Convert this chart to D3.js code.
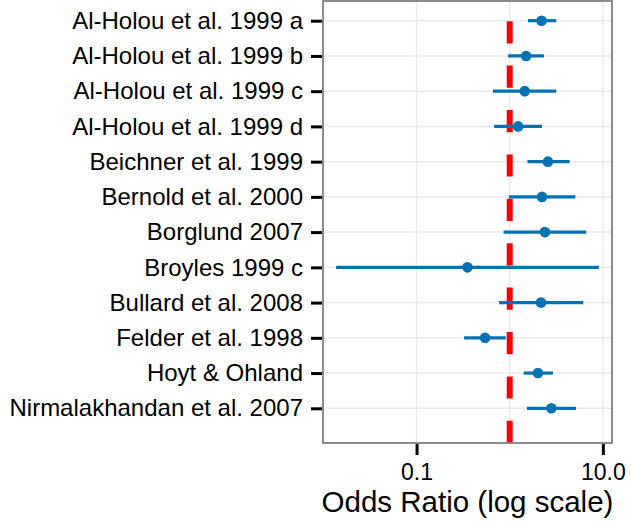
<!DOCTYPE html>
<html>
<head>
<meta charset="utf-8">
<script src="https://cdn.jsdelivr.net/npm/d3@7"></script>
<style>
  html, body { margin: 0; padding: 0; background: #ffffff; }
  svg { display: block; }
  text { font-family: "Liberation Sans", Arial, Helvetica, sans-serif; fill: #000; }
</style>
</head>
<body>
<svg id="chart" width="631" height="522"></svg>
<script>
// ---- data ----
const studies = [
  "Al-Holou et al. 1999 a",
  "Al-Holou et al. 1999 b",
  "Al-Holou et al. 1999 c",
  "Al-Holou et al. 1999 d",
  "Beichner et al. 1999",
  "Bernold et al. 2000",
  "Borglund 2007",
  "Broyles 1999 c",
  "Bullard et al. 2008",
  "Felder et al. 1998",
  "Hoyt & Ohland",
  "Nirmalakhandan et al. 2007"
];
const oddsRatio = [2.20, 1.50, 1.45, 1.23, 2.57, 2.22, 2.39, 0.352, 2.17, 0.544, 2.01, 2.80];
const ciLower   = [1.57, 0.96, 0.66, 0.68, 1.55, 0.98, 0.86, 0.0137, 0.77, 0.324, 1.41, 1.53];
const ciUpper   = [3.16, 2.33, 3.16, 2.22, 4.40, 5.06, 6.63, 9.06, 6.16, 0.906, 2.91, 5.14];
const tickValues = [0.1, 10];
const tickLabels = ["0.1", "10.0"];
const referenceValue = 1;
const xTitle = "Odds Ratio (log scale)";

// ---- layout ----
const panel = { left: 323, right: 612, top: 1, bottom: 443 };
const firstRowY = 20.7, lastRowY = 408.3;
const blue = "#0072B2";

const svg = d3.select("#chart");

// x: log scale, data range expanded 5% each side (in log space)
const lo = Math.log10(d3.min(ciLower)), hi = Math.log10(d3.max(ciUpper));
const pad = (hi - lo) * 0.05;
const x = d3.scaleLog()
  .domain([Math.pow(10, lo - pad), Math.pow(10, hi + pad)])
  .range([panel.left, panel.right]);

const y = d3.scalePoint()
  .domain(studies)
  .range([firstRowY, lastRowY]);

// panel background
svg.append("rect")
  .attr("x", panel.left).attr("y", panel.top)
  .attr("width", panel.right - panel.left)
  .attr("height", panel.bottom - panel.top)
  .attr("fill", "#ffffff");

// grid lines
const gridX = [0.1, 1, 10];
svg.append("g").selectAll("line").data(gridX).join("line")
  .attr("x1", d => x(d)).attr("x2", d => x(d))
  .attr("y1", panel.top).attr("y2", panel.bottom)
  .attr("stroke", "#ebebeb").attr("stroke-width", 1.5);
svg.append("g").selectAll("line").data(studies).join("line")
  .attr("x1", panel.left).attr("x2", panel.right)
  .attr("y1", d => y(d)).attr("y2", d => y(d))
  .attr("stroke", "#ebebeb").attr("stroke-width", 1.5);

// reference line (drawn bottom to top so dash pattern starts at bottom)
svg.append("line")
  .attr("x1", x(referenceValue)).attr("x2", x(referenceValue))
  .attr("y1", panel.bottom).attr("y2", panel.top)
  .attr("stroke", "#ff0000").attr("stroke-width", 6)
  .attr("stroke-dasharray", "22.2,22.2");

const rows = studies.map((s, i) => ({ s, or: oddsRatio[i], lo: ciLower[i], hi: ciUpper[i] }));

// CI lines
svg.append("g").selectAll("line").data(rows).join("line")
  .attr("x1", d => x(d.lo)).attr("x2", d => x(d.hi))
  .attr("y1", d => y(d.s)).attr("y2", d => y(d.s))
  .attr("stroke", blue).attr("stroke-width", 3.2);

// points
svg.append("g").selectAll("circle").data(rows).join("circle")
  .attr("cx", d => x(d.or)).attr("cy", d => y(d.s))
  .attr("r", 5.3).attr("fill", blue);

// panel border
svg.append("rect")
  .attr("x", panel.left).attr("y", panel.top)
  .attr("width", panel.right - panel.left)
  .attr("height", panel.bottom - panel.top)
  .attr("fill", "none").attr("stroke", "#7f7f7f").attr("stroke-width", 1.8);

// y axis
const yAxis = d3.axisLeft(y).tickSize(11).tickPadding(8);
const gy = svg.append("g").attr("transform", `translate(${panel.left - 1},0)`).call(yAxis);
gy.select(".domain").remove();
gy.selectAll(".tick line").attr("stroke", "#000").attr("stroke-width", 3);
gy.selectAll(".tick text")
  .attr("font-size", 24)
  .attr("font-family", "Liberation Sans, Arial, sans-serif")
  .attr("fill", "#000");

// x axis
const xAxis = d3.axisBottom(x).tickValues(tickValues)
  .tickFormat((d, i) => tickLabels[i]).tickSize(11).tickPadding(9);
const gx = svg.append("g").attr("transform", `translate(0,${panel.bottom + 1})`).call(xAxis);
gx.select(".domain").remove();
gx.selectAll(".tick line").attr("stroke", "#000").attr("stroke-width", 3);
gx.selectAll(".tick text")
  .attr("font-size", 23)
  .attr("font-family", "Liberation Sans, Arial, sans-serif")
  .attr("fill", "#000");

// x title
svg.append("text")
  .attr("x", (panel.left + panel.right) / 2)
  .attr("y", 512)
  .attr("text-anchor", "middle")
  .attr("font-size", 29.5)
  .text(xTitle);
</script>
</body>
</html>
